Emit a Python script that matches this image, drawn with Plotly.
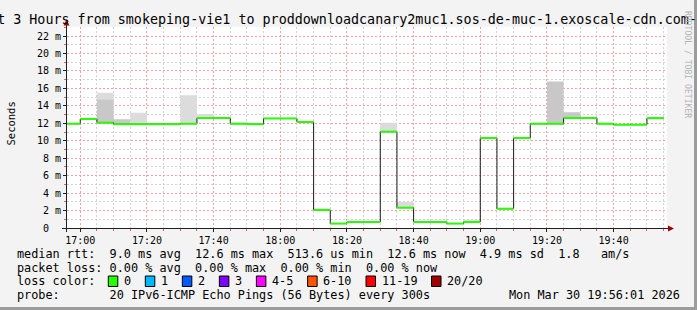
import plotly.graph_objects as go
import pandas as pd

# ---------------- data ----------------
interval_start = pd.date_range("2026-03-30 16:55:00", periods=36, freq="5min")
median_ms = [11.95, 12.5, 12.07, 11.9, 11.9, 11.9, 11.9, 11.95, 12.6, 12.6,
             11.95, 11.9, 12.55, 12.55, 12.15, 2.06, 0.51, 0.69, 0.69, 11.04,
             2.33, 0.69, 0.69, 0.51, 0.69, 10.31, 2.21, 10.31, 11.95, 11.95,
             12.6, 12.6, 11.95, 11.84, 11.84, 12.58]
smoke_light_ms = [None, None, 15.5, None, 13.2, None, None, 15.2, 13.06, None,
                  12.1, None, None, None, None, 2.25, None, None, None, 12.07,
                  2.98, None, None, None, 0.92, None, None, None, None, None,
                  None, None, None, None, None, 12.75]
smoke_dark_ms = [None, None, 14.7, 12.45, None, None, None, None, None, None,
                 None, None, None, None, None, None, None, None, None, None,
                 None, None, None, None, None, None, None, None, None, 16.8,
                 13.26, None, None, None, None, None]
y_tick_values = [0, 2, 4, 6, 8, 10, 12, 14, 16, 18, 20, 22]
y_tick_labels = ["0  ", "2 m", "4 m", "6 m", "8 m", "10 m", "12 m", "14 m",
                 "16 m", "18 m", "20 m", "22 m"]
loss_labels = ["0", "1", "2", "3", "4-5", "6-10", "11-19", "20/20"]
loss_colors = ["#26ff00", "#00b8ff", "#0059ff", "#7e00ff", "#ff00ff",
               "#ff5500", "#ff0000", "#a10000"]
title_text = ("Last 3 Hours from smokeping-vie1 to "
              "proddownloadcanary2muc1.sos-de-muc-1.exoscale-cdn.com-ipv6")
legend_rtt = "median rtt:  9.0 ms avg  12.6 ms max  513.6 us min  12.6 ms now  4.9 ms sd  1.8   am/s"
legend_loss = "packet loss: 0.00 % avg  0.00 % max  0.00 % min  0.00 % now"
legend_probe = "probe:       20 IPv6-ICMP Echo Pings (56 Bytes) every 300s"
stamp_text = "Mon Mar 30 19:56:01 2026"

# ---------------- geometry ----------------
W, H = 697, 310
PL, PT, PW, PH = 67, 27, 600, 201
Y_MAX = PH / (192 / 22)
MONO = "DejaVu Sans Mono"


def px(x):
    return (x - PL) / PW


def py(y):
    return (PT + PH - y) / PH


def nb(s):
    return s.replace(" ", "\u00a0")


step = pd.Timedelta(minutes=5)
xs = list(interval_start) + [interval_start[-1] + step]


def stepped(vals):
    return list(vals) + [vals[-1]]


fig = go.Figure()

# smoke (light then dark)
for top, col in ((smoke_light_ms, "#dcdcdc"), (smoke_dark_ms, "#c8c8c8")):
    tops = [t if t is not None else m for t, m in zip(top, median_ms)]
    fig.add_trace(go.Scatter(x=xs, y=stepped(median_ms), mode="lines",
                             line=dict(width=0, shape="hv"), hoverinfo="skip"))
    fig.add_trace(go.Scatter(x=xs, y=stepped(tops), mode="lines",
                             line=dict(width=0, shape="hv"), fill="tonexty",
                             fillcolor=col, hoverinfo="skip"))

# black step line (verticals)
fig.add_trace(go.Scatter(x=xs, y=stepped(median_ms), mode="lines",
                         line=dict(color="#1a1a1a", width=1, shape="hv"),
                         hoverinfo="skip"))

# green median segments
gx, gy = [], []
for i, m in enumerate(median_ms):
    gx += [xs[i], xs[i + 1], None]
    gy += [m, m, None]
fig.add_trace(go.Scatter(x=gx, y=gy, mode="lines",
                         line=dict(color=loss_colors[0], width=2),
                         hoverinfo="skip"))

fig.update_layout(
    width=W, height=H, margin=dict(l=PL, r=W - PL - PW, t=PT, b=H - PT - PH),
    paper_bgcolor="#f3f3f3", plot_bgcolor="#ffffff", showlegend=False,
    font=dict(family=MONO, color="#000000"),
)
fig.update_xaxes(
    type="date", range=["2026-03-30 16:56:01", "2026-03-30 19:56:01"],
    tick0="2026-03-30 17:00:00", dtick=20 * 60 * 1000, tickformat="%H:%M",
    showgrid=True, gridcolor="#eea3a3", griddash="2px,2px", gridwidth=1,
    ticks="outside", ticklen=3, tickcolor="#202020",
    tickfont=dict(family=MONO, size=10, color="#000000"),
    minor=dict(dtick=5 * 60 * 1000, showgrid=True, gridcolor="#d2d2d2",
               griddash="2px,2px", ticks="outside", ticklen=2,
               tickcolor="#e06060"),
    showline=False, zeroline=False, fixedrange=True,
)
fig.update_yaxes(
    range=[0, Y_MAX], tickvals=y_tick_values,
    ticktext=[nb(t) for t in y_tick_labels],
    showgrid=True, gridcolor="#eea3a3", griddash="2px,2px", gridwidth=1,
    ticks="outside", ticklen=3, tickcolor="#202020",
    tickfont=dict(family=MONO, size=10, color="#000000"),
    minor=dict(dtick=1, showgrid=True, gridcolor="#d2d2d2",
               griddash="2px,2px", ticks="outside", ticklen=2,
               tickcolor="#e06060"),
    showline=False, zeroline=False, fixedrange=True,
)

shapes = []
# axes lines + arrows
shapes.append(dict(type="line", xref="paper", yref="paper",
                   x0=px(62), x1=px(670), y0=py(228.5), y1=py(228.5),
                   line=dict(color="#202020", width=1)))
shapes.append(dict(type="line", xref="paper", yref="paper",
                   x0=px(66.5), x1=px(66.5), y0=py(232), y1=py(23),
                   line=dict(color="#202020", width=1)))
shapes.append(dict(type="path", xref="paper", yref="paper",
                   path=f"M{px(674)},{py(228.5)} L{px(668)},{py(225.5)} L{px(668)},{py(231.5)} Z",
                   fillcolor="#a00000", line=dict(width=0)))
shapes.append(dict(type="path", xref="paper", yref="paper",
                   path=f"M{px(66.5)},{py(19.5)} L{px(63.5)},{py(25.5)} L{px(69.5)},{py(25.5)} Z",
                   fillcolor="#a00000", line=dict(width=0)))
# frame shadow (right + bottom)
shapes.append(dict(type="rect", xref="paper", yref="paper",
                   x0=px(694), x1=px(697), y0=py(310), y1=py(0),
                   fillcolor="#9c9c9c", line=dict(width=0)))
shapes.append(dict(type="rect", xref="paper", yref="paper",
                   x0=px(0), x1=px(697), y0=py(310), y1=py(307),
                   fillcolor="#9c9c9c", line=dict(width=0)))

annotations = []


def text(x, y, s, size, anchor="left", color="#000000", angle=0):
    annotations.append(dict(x=px(x), y=py(y), xref="paper", yref="paper",
                            text=nb(s), showarrow=False, xanchor=anchor,
                            yanchor="middle", textangle=angle,
                            font=dict(family=MONO, size=size, color=color)))


text(-29.5, 19.4, title_text, 13.37)
text(10, 123.5, "Seconds", 10.5, anchor="center", angle=-90)
text(688, 64, "RRDTOOL / TOBI OETIKER", 8.1, anchor="center",
     color="#b4b4b4", angle=90)

row_y = [254.2, 267.8, 281.4, 295.0]
text(15, row_y[0], legend_rtt, 11.83)
text(15, row_y[1], legend_loss, 11.83)
text(15, row_y[2], "loss color:", 11.83)
text(15, row_y[3], legend_probe, 11.83)
text(682, row_y[3], stamp_text, 11.83, anchor="right")

lx = 123.0
for lab, col in zip(loss_labels, loss_colors):
    bx = lx - 14.7
    shapes.append(dict(type="rect", xref="paper", yref="paper",
                       x0=px(bx), x1=px(bx + 9.5), y0=py(286.5), y1=py(276),
                       fillcolor=col, line=dict(color="#000000", width=1)))
    text(lx - 1, row_y[2], lab, 11.83)
    lx += len(lab) * 7.12 + 29.9

fig.update_layout(shapes=shapes, annotations=annotations)
fig.write_html("out.html")
